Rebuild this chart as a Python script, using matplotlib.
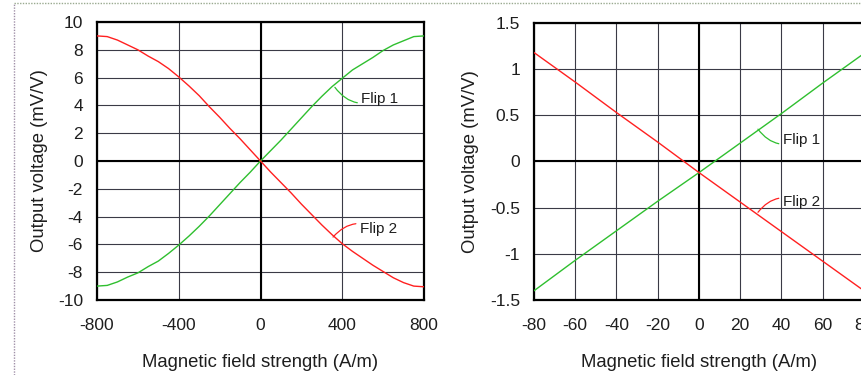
import matplotlib
matplotlib.use("Agg")
import matplotlib.pyplot as plt
from matplotlib.lines import Line2D

plt.rcParams['font.family'] = ['Liberation Sans', 'DejaVu Sans']
plt.rcParams['axes.unicode_minus'] = False

# ---- Left panel data (wide range) ----
h_wide = [-800, -750, -700, -650, -600, -550, -500, -450, -400, -350, -300, -250,
          -200, -150, -100, -50, 0, 50, 100, 150, 200, 250, 300, 350, 400, 450,
          500, 550, 600, 650, 700, 750, 800]
flip1_wide = [-9.0, -8.95, -8.7, -8.35, -8.05, -7.6, -7.2, -6.65, -6.05, -5.4, -4.7,
              -3.95, -3.15, -2.35, -1.55, -0.8, 0.0, 0.75, 1.5, 2.3, 3.1, 3.9, 4.65,
              5.35, 5.95, 6.55, 7.0, 7.45, 7.95, 8.35, 8.65, 8.95, 9.0]
flip2_wide = [9.0, 8.95, 8.7, 8.35, 8.0, 7.55, 7.15, 6.65, 6.05, 5.4, 4.7, 3.9, 3.15,
              2.35, 1.6, 0.8, 0.0, -0.8, -1.55, -2.3, -3.1, -3.85, -4.6, -5.3, -5.95,
              -6.5, -7.0, -7.5, -7.95, -8.4, -8.75, -9.0, -9.05]
xticks_wide = [-800, -400, 0, 400, 800]
yticks_wide = [-10, -8, -6, -4, -2, 0, 2, 4, 6, 8, 10]

# ---- Right panel data (narrow range) ----
h_narrow = [-80, -60, -40, -20, 0, 20, 40, 60, 80]
flip1_narrow = [-1.40, -1.07, -0.75, -0.43, -0.12, 0.20, 0.52, 0.85, 1.17]
flip2_narrow = [1.18, 0.86, 0.53, 0.21, -0.12, -0.44, -0.76, -1.08, -1.40]
xticks_narrow = [-80, -60, -40, -20, 0, 20, 40, 60, 80]
yticks_narrow = [-1.5, -1, -0.5, 0, 0.5, 1, 1.5]
ytick_labels_narrow = ['-1.5', '-1', '-0.5', '0', '0.5', '1', '1.5']

series_names = ['Flip 1', 'Flip 2']
xlabel = 'Magnetic field strength (A/m)'
ylabel = 'Output voltage (mV/V)'

GREEN = '#2fbf2f'
RED = '#ff2020'
GRID = '#3a3a46'
TXT = '#1e1e1e'

fig = plt.figure(figsize=(8.62, 3.75), dpi=100)
ax1 = fig.add_axes([97/862, 75/375, 327/862, 278/375])
ax2 = fig.add_axes([534/862, 75/375, 330/862, 277/375])


def style(ax, xticks, yticks, xlim, ylim, ylabels=None, ylabelpad=6):
    ax.set_xlim(*xlim)
    ax.set_ylim(*ylim)
    ax.set_xticks(xticks)
    ax.set_yticks(yticks)
    if ylabels is not None:
        ax.set_yticklabels(ylabels)
    ax.grid(True, color=GRID, linewidth=0.8)
    ax.set_axisbelow(True)
    ax.axhline(0, color='black', linewidth=1.5, zorder=1.5)
    ax.axvline(0, color='black', linewidth=1.5, zorder=1.5)
    for s in ax.spines.values():
        s.set_linewidth(1.6)
        s.set_color('black')
    ax.tick_params(length=0, labelsize=12.5, colors=TXT)
    ax.tick_params(axis='x', pad=13)
    ax.tick_params(axis='y', pad=10)
    ax.set_xlabel(xlabel, fontsize=13.3, labelpad=15, color=TXT)
    ax.set_ylabel(ylabel, fontsize=13.3, labelpad=ylabelpad, color=TXT)


def label(ax, name, xy, xytext, color, rad):
    ax.annotate(name, xy=xy, xytext=xytext, fontsize=11, va='center', ha='left',
                color=TXT,
                arrowprops=dict(arrowstyle='-', color=color, lw=0.9,
                                connectionstyle='arc3,rad=%s' % rad,
                                shrinkA=1, shrinkB=0))


style(ax1, xticks_wide, yticks_wide, (-800, 800), (-10, 10), ylabelpad=7)
ax1.plot(h_wide, flip1_wide, color=GREEN, linewidth=1.0, zorder=3)
ax1.plot(h_wide, flip2_wide, color=RED, linewidth=1.0, zorder=3)
label(ax1, series_names[0], (364, 5.3), (494, 4.45), GREEN, -0.4)
label(ax1, series_names[1], (355, -5.47), (487, -4.9), RED, 0.4)

style(ax2, xticks_narrow, yticks_narrow, (-80, 80), (-1.5, 1.5), ytick_labels_narrow,
      ylabelpad=8)
ax2.plot(h_narrow, flip1_narrow, color=GREEN, linewidth=1.0, zorder=3)
ax2.plot(h_narrow, flip2_narrow, color=RED, linewidth=1.0, zorder=3)
label(ax2, series_names[0], (28.6, 0.35), (40.7, 0.23), GREEN, -0.4)
label(ax2, series_names[1], (28.6, -0.55), (40.7, -0.44), RED, 0.4)

# frame lines of the original document
fig.add_artist(Line2D([14/862, 1.0], [1 - 3/375, 1 - 3/375], transform=fig.transFigure,
                      color='#9aaa90', linewidth=1.0, linestyle=(0, (1, 1))))
fig.add_artist(Line2D([14/862, 14/862], [0, 1 - 3/375], transform=fig.transFigure,
                      color='#a090a8', linewidth=1.0, linestyle=(0, (1, 1))))

fig.savefig('out.png', dpi=100)
